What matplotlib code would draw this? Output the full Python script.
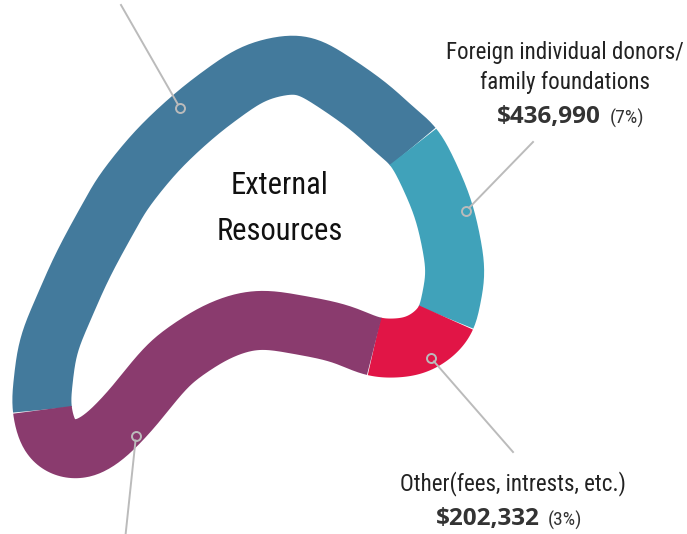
import numpy as np
import matplotlib.pyplot as plt
from matplotlib import font_manager

# external resources (ring order, clockwise from lower-left)
amounts = [1457000, 436990, 202332, 985000]
pct_labels = ["", "(7%)", "(3%)", ""]
colors = ["#437a9c", "#40a2ba", "#e11546", "#8a3b6e"]

# centre line of the blob (pixel coords), starts at blue/purple joint
path_pts = [(42, 410), (43, 383), (49, 345), (65, 305), (84, 263), (110, 215),
            (125, 190), (155, 153), (187, 122), (218, 97), (253, 74), (287, 65),
            (308, 67), (334, 82), (368, 106), (396, 131), (414, 147), (430, 177),
            (444, 212), (453, 252), (455, 276), (451, 300), (446, 320), (433, 335),
            (416, 345), (399, 348), (374, 347), (341, 334), (305, 326), (259, 320),
            (221, 330), (183, 353), (162, 372), (128, 413), (100, 440), (76, 450),
            (52, 440)]
band_px = 59


def catmull(pts, n=30):
    P = np.array(pts, float)
    N = len(P)
    t = np.linspace(0, 1, n, endpoint=False)[:, None]
    out = []
    for i in range(N):
        p0, p1, p2, p3 = P[i - 1], P[i], P[(i + 1) % N], P[(i + 2) % N]
        out.append(0.5 * (2 * p1 + (-p0 + p2) * t + (2 * p0 - 5 * p1 + 4 * p2 - p3) * t ** 2
                          + (-p0 + 3 * p1 - 3 * p2 + p3) * t ** 3))
    out.append(P[:1])
    return np.vstack(out)


# spline, resample every 1px, then smooth a little (periodic)
raw = catmull(path_pts)
d = np.concatenate([[0], np.cumsum(np.hypot(*np.diff(raw, axis=0).T))])
u = np.arange(0, d[-1], 1.0)
cx = np.interp(u, d, raw[:, 0])
cy = np.interp(u, d, raw[:, 1])
k = np.exp(-0.5 * (np.arange(-30, 31) / 9.0) ** 2)
k /= k.sum()


def psmooth(v):
    w = np.concatenate([v[-30:], v, v[:30]])
    return np.convolve(w, k, mode="same")[30:-30]


cx, cy = psmooth(cx), psmooth(cy)
curve = np.column_stack([np.append(cx, cx[0]), np.append(cy, cy[0])])
s = np.concatenate([[0], np.cumsum(np.hypot(*np.diff(curve, axis=0).T))])
s /= s[-1]
cuts = np.concatenate([[0], np.cumsum(amounts) / np.sum(amounts)])

fig = plt.figure(figsize=(6.87, 5.34), dpi=100)
ax = fig.add_axes([0, 0, 1, 1])
ax.set_xlim(0, 687)
ax.set_ylim(534, 0)
ax.axis("off")

lw = band_px * 72 / 100
for i, c in enumerate(colors):
    a, b = cuts[i], cuts[i + 1]
    m = (s > a) & (s < b)
    xs = np.concatenate([[np.interp(a, s, curve[:, 0])], curve[m, 0], [np.interp(b, s, curve[:, 0])]])
    ys = np.concatenate([[np.interp(a, s, curve[:, 1])], curve[m, 1], [np.interp(b, s, curve[:, 1])]])
    ax.plot(xs, ys, color=c, lw=lw, solid_capstyle="butt", solid_joinstyle="round")

# leader lines: (dot, far end)
leaders = [((180, 108), (121, 5)), ((466, 211), (533, 142)),
           ((431, 358), (513, 452)), ((136, 436), (125, 540))]
r = 4.5
for (x0, y0), (x1, y1) in leaders:
    dd = np.hypot(x1 - x0, y1 - y0)
    ux, uy = (x1 - x0) / dd, (y1 - y0) / dd
    ax.plot([x0 + ux * r, x1], [y0 + uy * r, y1], color="#bbbbbb", lw=1.4)
    ax.plot(x0, y0, "o", ms=2 * r * 0.72, mfc="none", mec="#bbbbbb", mew=1.4)

installed = {f.name for f in font_manager.fontManager.ttflist}
cond = [f for f in ["Roboto Condensed", "Liberation Sans Narrow", "Roboto"]
        if f in installed] + ["DejaVu Sans"]

ax.text(280, 186, "External", ha="center", va="center", fontsize=22, family=cond, color="#111111")
ax.text(280, 232, "Resources", ha="center", va="center", fontsize=22, family=cond, color="#111111")

ax.text(565, 52, "Foreign individual donors/", ha="center", va="center", fontsize=16.6, family=cond, color="#222222")
ax.text(565, 83, "family foundations", ha="center", va="center", fontsize=16.6, family=cond, color="#222222")
ax.text(601, 117, "$436,990", ha="right", va="center", fontsize=17.5, family="Open Sans", weight="bold", color="#333333")
ax.text(610, 118, pct_labels[1], ha="left", va="center", fontsize=14, family=cond, color="#333333")

ax.text(513, 484, "Other(fees, intrests, etc.)", ha="center", va="center", fontsize=16.6, family=cond, color="#222222")
ax.text(540, 519, "$202,332", ha="right", va="center", fontsize=17.5, family="Open Sans", weight="bold", color="#333333")
ax.text(548, 520, pct_labels[2], ha="left", va="center", fontsize=14, family=cond, color="#333333")

fig.savefig("out.png", dpi=100)
